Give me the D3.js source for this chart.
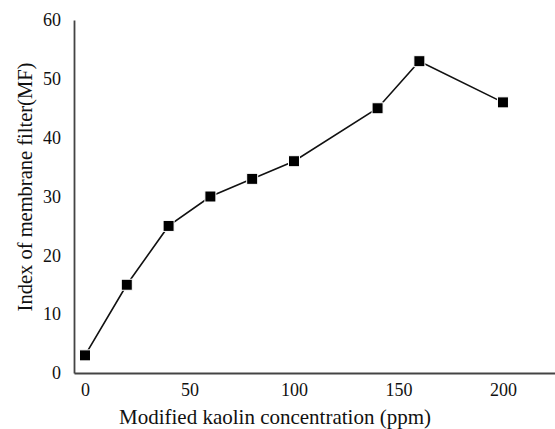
<!DOCTYPE html>
<html>
<head>
<meta charset="utf-8">
<script src="https://cdn.jsdelivr.net/npm/d3@7"></script>
<style>
  body { margin: 0; background: #fff; }
  svg { display: block; }
</style>
</head>
<body>
<svg></svg>
<script>
const concentration = [0, 20, 40, 60, 80, 100, 140, 160, 200];
const mfIndex = [3, 15, 25, 30, 33, 36, 45, 53, 46];
const xTicks = [0, 50, 100, 150, 200];
const yTicks = [0, 10, 20, 30, 40, 50, 60];

const font = "'Liberation Serif', 'Times New Roman', serif";
const width = 555;
const height = 429;

const svg = d3.select("svg").attr("width", width).attr("height", height);

const margin = { left: 74, right: 0, top: 20, bottom: 56 };
const graphWidth = width - margin.left - margin.right;
const graphHeight = height - margin.top - margin.bottom;

const data = concentration.map((c, i) => ({ x: c, y: mfIndex[i] }));

// x: 0 sits ~11px right of the axis, the axis runs to the edge
const xScale = d3.scaleLinear().domain([-5.26, 224.9]).range([0, graphWidth]);
const yScale = d3.scaleLinear().domain([0, 60]).range([graphHeight, 0]);

const g = svg.append("g").attr("transform", `translate(${margin.left}, ${margin.top})`);

const xAxisG = g.append("g")
  .attr("transform", `translate(0, ${graphHeight})`)
  .call(d3.axisBottom(xScale).tickValues(xTicks).tickSize(0).tickPadding(10));
const yAxisG = g.append("g")
  .call(d3.axisLeft(yScale).tickValues(yTicks).tickSize(0).tickPadding(13));

[xAxisG, yAxisG].forEach((a) => {
  a.select(".domain").attr("stroke", "#444").attr("stroke-width", 1.8);
  a.selectAll(".tick text")
    .style("font-family", font)
    .style("font-size", "18px")
    .attr("fill", "#111");
});

const line = d3.line().x((d) => xScale(d.x)).y((d) => yScale(d.y));
g.append("path")
  .attr("d", line(data))
  .attr("fill", "none")
  .attr("stroke", "#111")
  .attr("stroke-width", 1.6);

const s = 11;
g.selectAll("rect.pt")
  .data(data)
  .join("rect")
  .attr("class", "pt")
  .attr("x", (d) => xScale(d.x) - s / 2)
  .attr("y", (d) => yScale(d.y) - s / 2)
  .attr("width", s)
  .attr("height", s)
  .attr("fill", "#000")
  .attr("stroke", "#fff")
  .attr("stroke-width", 1);

svg.append("text")
  .attr("x", 119)
  .attr("y", 424)
  .style("font-family", font)
  .style("font-size", "21px")
  .attr("fill", "#111")
  .text("Modified kaolin concentration (ppm)");

svg.append("text")
  .attr("transform", "translate(32, 187) rotate(-90)")
  .attr("text-anchor", "middle")
  .style("font-family", font)
  .style("font-size", "20.5px")
  .attr("fill", "#111")
  .text("Index of membrane filter(MF)");
</script>
</body>
</html>
